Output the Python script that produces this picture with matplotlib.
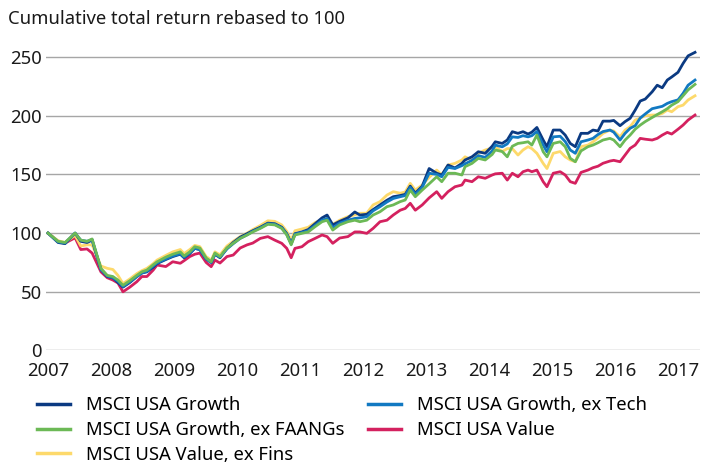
import numpy as np
import matplotlib
matplotlib.use("Agg")
import matplotlib.pyplot as plt

# month-ish sample points, fractional years
dates = [2007.00, 2007.16, 2007.27, 2007.43, 2007.52, 2007.62, 2007.70, 2007.84,
         2007.94, 2008.03, 2008.11, 2008.19, 2008.30, 2008.41, 2008.49, 2008.57,
         2008.67, 2008.73, 2008.87, 2008.98, 2009.10, 2009.16, 2009.25, 2009.33,
         2009.41, 2009.51, 2009.59, 2009.65, 2009.73, 2009.84, 2009.94, 2010.05,
         2010.16, 2010.25, 2010.37, 2010.49, 2010.60, 2010.71, 2010.79, 2010.86,
         2010.92, 2011.03, 2011.13, 2011.24, 2011.35, 2011.43, 2011.52, 2011.63,
         2011.76, 2011.87, 2011.95, 2012.06, 2012.16, 2012.27, 2012.38, 2012.48,
         2012.59, 2012.67, 2012.75, 2012.83, 2012.94, 2013.05, 2013.17, 2013.25,
         2013.35, 2013.46, 2013.57, 2013.62, 2013.73, 2013.83, 2013.94, 2014.05,
         2014.10, 2014.21, 2014.29, 2014.37, 2014.46, 2014.54, 2014.62, 2014.68,
         2014.76, 2014.86, 2014.92, 2015.02, 2015.13, 2015.21, 2015.29, 2015.37,
         2015.46, 2015.57, 2015.65, 2015.73, 2015.81, 2015.92, 2015.98, 2016.08,
         2016.16, 2016.24, 2016.32, 2016.40, 2016.48, 2016.59, 2016.67, 2016.75,
         2016.83, 2016.90, 2017.00, 2017.08, 2017.16, 2017.27]

growth = [100, 92, 91, 100, 93, 92, 94, 69, 63, 62, 58, 54, 58, 63, 66, 67,
          71, 74, 77.5, 80, 82, 79, 82.5, 87, 86, 78, 75, 82, 79, 87, 92, 96.5,
          99.5, 102, 105, 108.5, 108, 105, 99.5, 91, 99.5, 101, 103, 108, 113, 115.4,
          107, 110, 113, 118, 115.4, 116, 120, 124, 128, 131, 132, 133, 140, 134,
          140, 155, 151, 149.5, 158, 155.5, 159.4, 162.3, 165, 169.3, 168, 174, 177.8,
          176.4, 179.3, 186.4, 185, 186.4, 184.4, 186, 190, 179.3, 173.6, 187.8,
          187.8, 183.5, 176.4, 173.6, 185, 185, 187.8, 187, 195.4, 195.4, 196,
          191.5, 195, 197.8, 204.8, 212.5, 214.2, 220.4, 226, 223.8, 230.4, 233,
          237, 244.5, 251, 254]

growth_ex_tech = [100, 92.5, 91.5, 100, 94, 93, 94.5, 69, 63.5, 62, 59, 54.5, 58.5, 63, 66, 67.5,
                  72, 74.5, 78, 80.5, 82.5, 79.5, 83, 87, 86, 78, 75, 82, 79.5, 86.5, 91, 95.5,
                  98.5, 101.5, 104.5, 108, 107.5, 104.5, 99, 91, 99, 100.5, 102, 106.5, 111, 112.5,
                  104.5, 108.5, 111, 112.5, 113, 114, 119, 122.5, 126.5, 129.5, 131, 132, 139, 133,
                  139, 151, 150, 148, 156, 155, 157.5, 159, 162, 166, 164.5, 170, 175,
                  173.5, 176, 182, 181.5, 183, 182, 183, 186.5, 175, 169.3, 182,
                  182.5, 178, 170.8, 168, 177.8, 179.3, 180.7, 184, 186.5, 187.8, 186,
                  179.3, 185, 189.3, 191.5, 198, 201.5, 206, 207, 208, 210.5, 212,
                  213.5, 219, 226, 230.4]

growth_ex_faangs = [100, 93, 92, 100, 94, 93, 95, 70, 64, 63, 60, 55.5, 59.5, 64, 67, 68.5,
                    73, 75.5, 79.5, 82, 84, 80.5, 84, 88.4, 87.3, 78.8, 75.6, 83, 80, 87.3, 91.3, 95.5,
                    98.4, 101, 104, 107.5, 107, 104, 98.4, 90, 98.4, 99.8, 101, 105.5, 109.7, 111,
                    102.6, 107, 109.7, 111, 109.7, 111, 115.4, 118.2, 122.5, 124, 126.8, 128.2, 136.7, 131,
                    136.7, 142, 148, 143.8, 151, 151, 149.5, 156.6, 159.4, 163.7, 162.3, 167, 170.8,
                    169.5, 165, 174, 176.4, 177, 177.8, 175, 183.5, 169.3, 165, 176.4,
                    177.8, 173.6, 163.7, 160.8, 170, 173.6, 175, 177, 179.3, 180.7, 179.3,
                    173.6, 179.3, 183.5, 188.5, 192, 195, 198.5, 201, 203.4, 206, 209,
                    212, 217, 222, 226.7]

value = [100, 93, 91.5, 96, 86, 86.5, 83, 67, 62, 60, 57.5, 50, 54, 58.6, 63, 63,
         68.5, 72.8, 71.5, 75.6, 74.3, 76.5, 80, 82, 83, 75, 71.4, 77, 74.5, 80, 81.3, 87.3,
         90, 91.5, 95.5, 97, 94, 91.3, 87, 79, 87, 88.4, 92.7, 95.5, 98.4, 97,
         91.3, 95.8, 97, 101, 101, 99.8, 104, 109.7, 111, 115.4, 119.5, 121, 125.4, 119.5,
         124, 130, 135.3, 129.6, 135.3, 139.5, 141, 145.2, 143.8, 148, 146.7, 149.5, 150.5,
         151, 145.2, 151, 148, 152.3, 153.7, 152.3, 153.7, 143.8, 139.5, 151,
         152.3, 149.5, 143.8, 142.4, 151.7, 153.7, 155.7, 157, 159.5, 161.4, 162,
         160.8, 166.5, 172.2, 175, 180.7, 180, 179.3, 180.7, 183.5, 185.8, 184.4,
         188.5, 192, 196.3, 200.6]

value_ex_fins = [100, 93.5, 92, 98, 89, 90, 90, 72, 70, 69, 64, 57, 61, 65.5, 68, 70,
                 74, 77, 81, 84, 86, 82.5, 86, 89.5, 88.5, 80, 77, 84, 81.5, 89, 93, 97,
                 100, 103, 106.5, 110.5, 110, 107, 101.5, 94, 102, 103.5, 105, 109, 111.5, 112.5,
                 107.5, 111, 114, 115.5, 116.9, 117, 124, 126.8, 132.4, 135.3, 134, 135, 142.4, 136.7,
                 141, 147.5, 153.7, 149.5, 158, 159.4, 162.3, 165, 162.3, 168, 170.8, 172.5, 173.6,
                 169.5, 172, 172, 166.5, 170.8, 173.6, 172, 168, 159.4, 155, 168,
                 169.5, 165, 162.3, 160.8, 173.6, 175, 177.8, 181, 185, 187.8, 187,
                 182, 187.8, 190.6, 196.3, 198, 200, 200.6, 200.6, 202, 204.8, 203.4,
                 207.7, 209, 213.4, 217]

yticks = [0, 50, 100, 150, 200, 250]
xticks = list(range(2007, 2018))

plt.rcParams['font.family'] = ['Noto Sans', 'DejaVu Sans']
fs = 13.3

fig = plt.figure(figsize=(7.02, 4.67), dpi=100)
ax = fig.add_axes([46 / 702, 0.2495, 654 / 702, 0.6535])

c_growth = '#0b3a82'
c_tech = '#1279c2'
c_faang = '#6cb956'
c_value = '#d4215f'
c_fins = '#fdd96b'
lw = 2.0

l_v, = ax.plot(dates, value, color=c_value, lw=lw, label='MSCI USA Value')
l_vf, = ax.plot(dates, value_ex_fins, color=c_fins, lw=lw, label='MSCI USA Value, ex Fins')
l_g, = ax.plot(dates, growth, color=c_growth, lw=lw, label='MSCI USA Growth')
l_gt, = ax.plot(dates, growth_ex_tech, color=c_tech, lw=lw, label='MSCI USA Growth, ex Tech')
l_gf, = ax.plot(dates, growth_ex_faangs, color=c_faang, lw=lw, label='MSCI USA Growth, ex FAANGs')

ax.set_xlim(2007 - 2 / 63, 2007 + 652 / 63)
ax.set_ylim(0, 260)
ax.set_yticks(yticks)
ax.set_xticks(xticks)
ax.set_xticklabels([str(x) for x in xticks])
ax.grid(axis='y', color='#a6a6a6', lw=1.0)
ax.set_axisbelow(True)
for s in ax.spines.values():
    s.set_visible(False)
ax.tick_params(axis='both', length=0, labelsize=fs, colors='#1a1a1a')
ax.tick_params(axis='y', pad=3)
ax.tick_params(axis='x', pad=8)

fig.text(8 / 702, 1 - 19 / 467, 'Cumulative total return rebased to 100',
         fontsize=fs, color='#1a1a1a', va='center', ha='left')

fig.legend(handles=[l_g, l_gf, l_vf, l_gt, l_v], ncol=2, frameon=False,
           loc='upper left', bbox_to_anchor=(30 / 702, 1 - 389 / 467),
           fontsize=fs, handlelength=1.78, handletextpad=0.85,
           columnspacing=1.3, labelspacing=0.36, borderaxespad=0)

for line in fig.legends[0].get_lines():
    line.set_linewidth(2.5)

fig.savefig('out.png', dpi=100)
